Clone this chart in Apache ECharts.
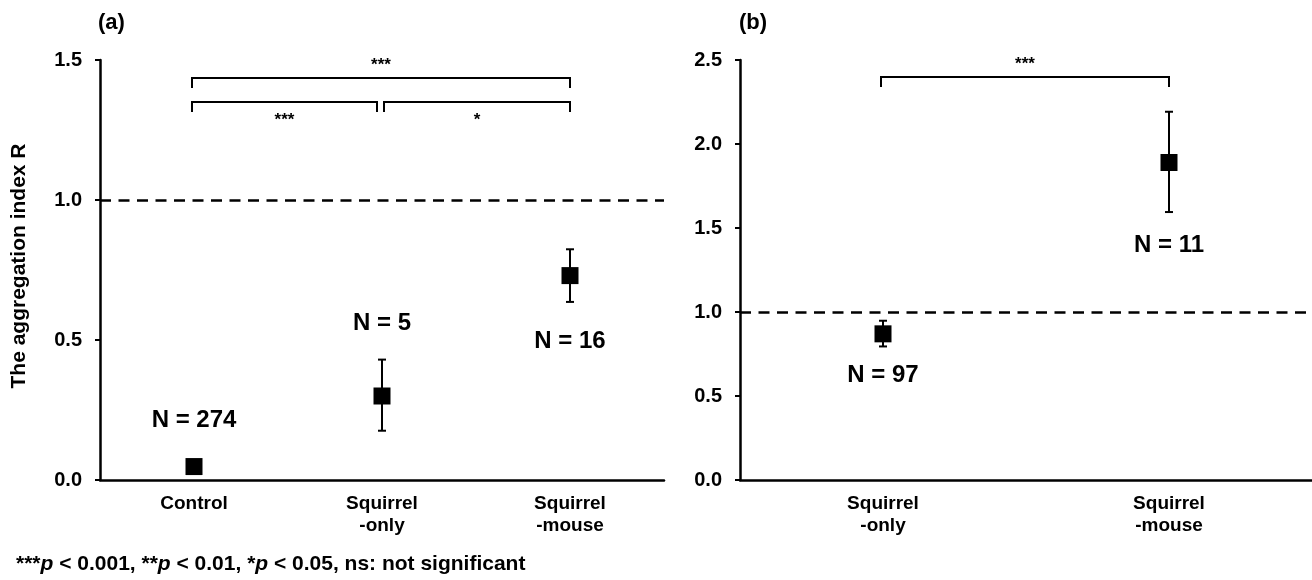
<!DOCTYPE html>
<html>
<head>
<meta charset="utf-8">
<script src="https://cdn.jsdelivr.net/npm/echarts@6/dist/echarts.min.js"></script>
<style>html,body{margin:0;background:#fff}#chart{width:1312px;height:580px}</style>
</head>
<body>
<div id="chart"></div>
<script>
// panel (a)
var catsA = ['Control', 'Squirrel\n-only', 'Squirrel\n-mouse'];
var meanA = [0.048, 0.30, 0.73];
var lowA = [0.042, 0.176, 0.636];
var highA = [0.054, 0.43, 0.824];
var nA = [274, 5, 16];
var sigA = [[0, 2, '***'], [0, 1, '***'], [1, 2, '*']];

// panel (b)
var catsB = ['Squirrel\n-only', 'Squirrel\n-mouse'];
var meanB = [0.87, 1.89];
var lowB = [0.795, 1.595];
var highB = [0.948, 2.192];
var nB = [97, 11];
var sigB = [[0, 1, '***']];

var refValue = 1.0;

var FONT = 'Liberation Sans, Arial, sans-serif';
var myChart = echarts.init(document.getElementById('chart'));

function errorSeries(grid, low, high) {
  return {
    type: 'custom', xAxisIndex: grid, yAxisIndex: grid, z: 1, silent: true,
    data: low.map(function (l, i) { return [i, l, high[i]]; }),
    renderItem: function (params, api) {
      var lo = api.coord([api.value(0), api.value(1)]);
      var hi = api.coord([api.value(0), api.value(2)]);
      var s = { stroke: '#000', lineWidth: 2 };
      return {
        type: 'group',
        children: [
          { type: 'line', shape: { x1: lo[0], y1: lo[1], x2: hi[0], y2: hi[1] }, style: s },
          { type: 'line', shape: { x1: lo[0] - 4, y1: lo[1], x2: lo[0] + 4, y2: lo[1] }, style: s },
          { type: 'line', shape: { x1: hi[0] - 4, y1: hi[1], x2: hi[0] + 4, y2: hi[1] }, style: s }
        ]
      };
    }
  };
}

// N labels, offset in px from the point centre
function nSeries(grid, mean, n, offsets) {
  return {
    type: 'custom', xAxisIndex: grid, yAxisIndex: grid, silent: true,
    data: mean.map(function (m, i) { return [i, m, n[i]]; }),
    renderItem: function (params, api) {
      var p = api.coord([api.value(0), api.value(1)]);
      return {
        type: 'text',
        style: {
          x: p[0], y: p[1] + offsets[params.dataIndex],
          text: 'N = ' + api.value(2),
          align: 'center', verticalAlign: 'middle',
          font: 'bold 24px ' + FONT, fill: '#000'
        }
      };
    }
  };
}

// significance brackets
function sigSeries(grid, sig, levels, insets, textDy) {
  return {
    type: 'custom', xAxisIndex: grid, yAxisIndex: grid, silent: true,
    data: sig.map(function (s) { return [s[0], s[1]]; }),
    renderItem: function (params, api) {
      var k = params.dataIndex;
      var a = api.coord([api.value(0), levels[k]]);
      var b = api.coord([api.value(1), levels[k]]);
      var x1 = a[0] - 2 + insets[k][0], x2 = b[0] + insets[k][1], y = a[1];
      var s = { stroke: '#000', lineWidth: 2, fill: null };
      return {
        type: 'group',
        children: [
          { type: 'polyline', shape: { points: [[x1, y + 10], [x1, y], [x2, y], [x2, y + 10]] }, style: s },
          { type: 'text', style: { x: (x1 + x2) / 2, y: y + textDy[k], text: sig[k][2], align: 'center', verticalAlign: 'middle', font: 'bold 17px ' + FONT, fill: '#000' } }
        ]
      };
    }
  };
}

function pointSeries(grid, mean) {
  return {
    type: 'scatter', xAxisIndex: grid, yAxisIndex: grid, z: 4,
    symbol: 'rect', symbolSize: 17,
    itemStyle: { color: '#000', opacity: 1 },
    data: mean,
    markLine: {
      silent: true, symbol: 'none', label: { show: false },
      lineStyle: { color: '#000', width: 2.5, type: [11, 7.5], opacity: 1 },
      data: [{ yAxis: refValue }]
    }
  };
}

function xAxis(grid, cats) {
  return {
    type: 'category', gridIndex: grid, data: cats,
    axisLine: { lineStyle: { color: '#000', width: 2.5 } },
    axisTick: { alignWithLabel: true, length: 5, lineStyle: { color: '#000', width: 2 } },
    axisLabel: { color: '#000', fontFamily: FONT, fontWeight: 'bold', fontSize: 19, lineHeight: 22, margin: 13 },
    splitLine: { show: false }
  };
}

function yAxis(grid, max) {
  return {
    type: 'value', gridIndex: grid, min: 0, max: max, interval: 0.5,
    axisLine: { show: true, lineStyle: { color: '#000', width: 2.5 } },
    axisTick: { show: true, length: 5, lineStyle: { color: '#000', width: 2 } },
    axisLabel: { color: '#000', fontFamily: FONT, fontWeight: 'bold', fontSize: 20, margin: 18,
      formatter: function (v) { return v.toFixed(1); } },
    splitLine: { show: false }
  };
}

var option = {
  animation: false,
  backgroundColor: '#fff',
  grid: [
    { left: 100, top: 60, width: 564, height: 420 },
    { left: 740, top: 60, width: 572, height: 420 }
  ],
  xAxis: [xAxis(0, catsA), xAxis(1, catsB)],
  yAxis: [
    Object.assign(yAxis(0, 1.5), {
      name: 'The aggregation index R', nameLocation: 'middle', nameGap: 70, nameRotate: 90,
      nameTextStyle: { color: '#000', fontFamily: FONT, fontWeight: 'bold', fontSize: 21, padding: [0, 0, 0, 8] }
    }),
    yAxis(1, 2.5)
  ],
  graphic: [
    { type: 'text', left: 98, top: 12, style: { text: '(a)', font: 'bold 22px ' + FONT, fill: '#000' } },
    { type: 'text', left: 739, top: 12, style: { text: '(b)', font: 'bold 22px ' + FONT, fill: '#000' } },
    { type: 'text', left: 16, top: 554, style: {
      text: '{b|***}{i|p}{b| < 0.001, **}{i|p}{b| < 0.01, *}{i|p}{b| < 0.05, ns: not significant}',
      rich: {
        b: { fontFamily: FONT, fontWeight: 'bold', fontSize: 21, fill: '#000' },
        i: { fontFamily: FONT, fontWeight: 'bold', fontStyle: 'italic', fontSize: 21, fill: '#000' }
      }
    } }
  ],
  series: [
    errorSeries(0, lowA, highA),
    pointSeries(0, meanA),
    nSeries(0, meanA, nA, [-46, -73, 66]),
    sigSeries(0, sigA, [1.436, 1.35, 1.35], [[0, 0], [0, -5], [4, 0]], [-13, 18, 18]),
    errorSeries(1, lowB, highB),
    pointSeries(1, meanB),
    nSeries(1, meanB, nB, [42, 83]),
    sigSeries(1, sigB, [2.399], [[0, 0]], [-13])
  ]
};
myChart.setOption(option);
</script>
</body>
</html>
